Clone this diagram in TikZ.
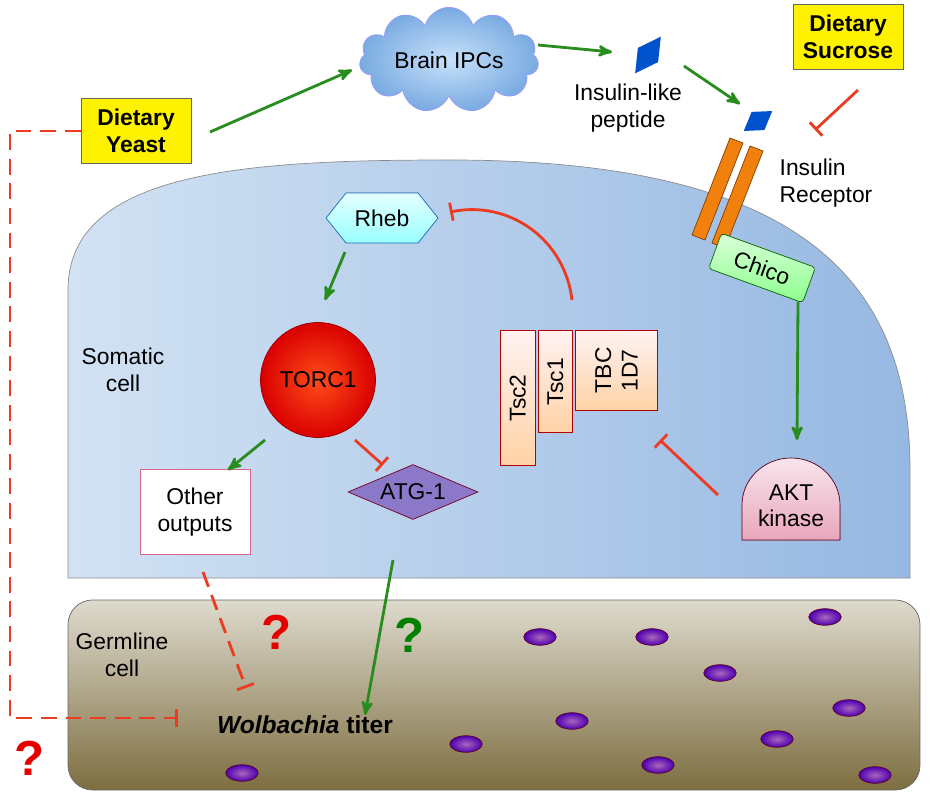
\documentclass[tikz,border=0pt]{standalone}
\usepackage{fontspec}
\setmainfont{Liberation Sans}
\usetikzlibrary{shapes.geometric, shapes.symbols, arrows, positioning, calc}

\begin{document}
\begin{tikzpicture}[
    x=0.02cm, y=-0.02cm,
    font=\fontsize{13}{15}\selectfont,
    diet/.style={rectangle, draw=black!60, fill=yellow, minimum width=2.2cm, minimum height=1.3cm, align=center, font=\fontsize{13}{15}\selectfont\bfseries},
    tsc/.style={rectangle, draw=red!70!black, top color=red!5, bottom color=orange!35, anchor=north west},
    bact/.style={ellipse, draw=purple!50!black, inner color=blue!40!purple!60, outer color=blue!60!purple, minimum width=0.65cm, minimum height=0.3cm},
    act/.style={->, >=stealth', line width=1.6pt, draw={rgb,255:red,40;green,140;blue,30}},
    inh/.style={-|, line width=1.6pt, draw={rgb,255:red,235;green,60;blue,35}}
]
\useasboundingbox (0,0) rectangle (936,800);

% cells
\shade[left color={rgb,255:red,210;green,226;blue,243}, right color={rgb,255:red,150;green,184;blue,226}, draw=black!45] (68,578) -- (68,290) .. controls (68,170) and (250,160) .. (450,160) .. controls (800,160) and (910,280) .. (910,470) -- (910,578) -- cycle;
\shade[rounded corners=14pt, top color={rgb,255:red,222;green,218;blue,205}, bottom color={rgb,255:red,125;green,110;blue,65}, draw=black!60] (68,600) rectangle (920,790);

\foreach \px/\py in {540/637, 652/637, 825/617, 720/673, 572/721, 849/708, 466/744, 777/739, 658/765, 875/775, 242/773}
  \node[bact] at (\px,\py) {};

% nodes
\node[diet] (yeast) at (136,131) {Dietary\\Yeast};
\node[diet] (sucrose) at (848,37) {Dietary\\Sucrose};
\node[cloud, cloud puffs=11, aspect=2.4, draw=blue!40, inner color={rgb,255:red,200;green,225;blue,250}, outer color={rgb,255:red,120;green,170;blue,225}, minimum width=3.2cm, minimum height=1.3cm] (ipc) at (449,60) {Brain IPCs};
\node[diamond, fill=blue!60!cyan!80!black, minimum width=0.5cm, minimum height=0.9cm, inner sep=0pt, rotate=-35, aspect=0.5] (pep) at (648,55) {};
\node[align=center] (peplbl) at (628,108) {Insulin-like\\peptide};
\node[diamond, fill=blue!60!cyan!80!black, minimum width=0.45cm, minimum height=0.7cm, inner sep=0pt, rotate=-55, aspect=0.5] (rec) at (758,121) {};
\fill[orange!80!brown, draw=orange!50!black] (730,138) -- (743,143) -- (705,240) -- (692,235) -- cycle;
\fill[orange!80!brown, draw=orange!50!black] (750,146) -- (763,151) -- (725,248) -- (712,243) -- cycle;
\node[align=left] (reclbl) at (826,183) {Insulin\\Receptor};
\node[rectangle, rounded corners=2pt, draw=green!40!black, top color=green!15, bottom color=green!45, rotate=-20, minimum width=2.0cm, minimum height=0.75cm] (chico) at (762,268) {Chico};
\filldraw[draw=cyan!50!blue, top color=cyan!10, bottom color=cyan!40] (326,218) -- (346,193) -- (418,193) -- (438,218) -- (418,243) -- (346,243) -- cycle;
\node (rheb) at (382,218) {Rheb};
\node[circle, draw=red!60!black, inner color=red!55!orange!90, outer color=red!85!black, minimum size=2.3cm] (torc) at (318,380) {TORC1};
\node[rectangle, draw=purple!60, fill=white, minimum width=2.2cm, minimum height=1.7cm, align=center] (other) at (195,512) {Other\\outputs};
\node[diamond, aspect=2.4, draw=purple!60!black, fill={rgb,255:red,140;green,120;blue,200}, minimum width=2.6cm, minimum height=1.1cm, inner sep=0pt] (atg) at (413,492) {ATG-1};
\node[tsc, minimum width=0.7cm, minimum height=2.7cm] (tsc2) at (500,330) {};
\node[rotate=90] at (tsc2) {Tsc2};
\node[tsc, minimum width=0.68cm, minimum height=2.05cm] (tsc1) at (538,330) {};
\node[rotate=90] at (tsc1) {Tsc1};
\node[tsc, minimum width=1.64cm, minimum height=1.6cm] (tbc) at (575,330) {};
\node[rotate=90, align=center] at (tbc) {TBC\\1D7};
\filldraw[draw=purple!50!black, top color=purple!10, bottom color=purple!35] (742,540) -- (742,505) arc (180:360:49 and 47) -- (840,540) -- cycle;
\node[align=center] (akt) at (791,506) {AKT\\kinase};
\node[align=center] (soma) at (123,370) {Somatic\\cell};
\node[align=center] (germ) at (122,655) {Germline\\cell};
\node[font=\fontsize{14}{16}\selectfont\bfseries] (wol) at (305,725) {\textit{Wolbachia} titer};
\node[font=\fontsize{28}{30}\selectfont\bfseries, text=red!90!black] (q1) at (277,632) {?};
\node[font=\fontsize{28}{30}\selectfont\bfseries, text=green!50!black] (q2) at (410,635) {?};
\node[font=\fontsize{28}{30}\selectfont\bfseries, text=red!90!black] (q3) at (30,758) {?};

% connectors
\coordinate (ystart) at (210,132);
\coordinate (ipcend) at (352,70);
\coordinate (ipcout) at (538,45);
\coordinate (pepend) at (612,52);
\coordinate (pepout) at (684,66);
\coordinate (recend) at (740,104);
\coordinate (sucout) at (858,90);
\coordinate (sucend) at (815,130);
\coordinate (yend) at (178,718);
\coordinate (oout) at (203,572);
\coordinate (oend) at (246,688);
\coordinate (aktout) at (718,495);
\coordinate (aktend) at (660,440);
\coordinate (tscout) at (572,300);
\coordinate (tscend) at (450,212);
\draw[act] (ystart) -- (ipcend);
\draw[act] (ipcout) -- (pepend);
\draw[act] (pepout) -- (recend);
\draw[act] (345,252) -- (325,300);
\draw[act] (265,440) -- (228,470);
\draw[act] (798,302) -- (797,440);
\draw[act] (393,560) -- (365,715);
\draw[inh] (sucout) -- (sucend);
\draw[inh] (tscout) .. controls (565,240) and (510,200) .. (tscend);
\draw[inh] (355,440) -- (383,465);
\draw[inh] (aktout) -- (aktend);
\draw[inh, dashed, dash pattern=on 9pt off 5pt] (oout) -- (oend);
\draw[inh, dashed, dash pattern=on 9pt off 5pt] (yeast.west) -- (10,131) -- (10,718) -- (yend);
\end{tikzpicture}
\end{document}
